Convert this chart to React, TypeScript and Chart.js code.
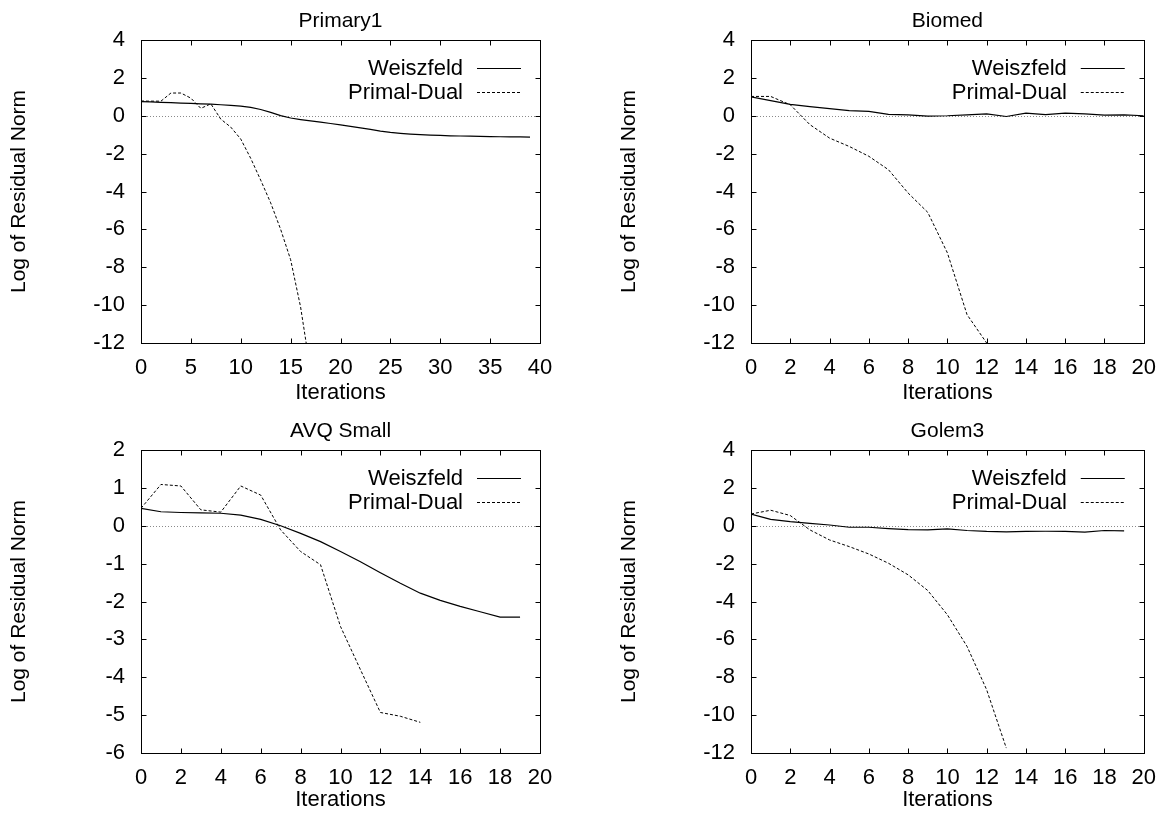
import { useEffect, useRef } from "react";
import { Chart, registerables } from "chart.js";

Chart.register(...registerables);

// ---------- data ----------
const primary1Weiszfeld = [
  0.75, 0.73, 0.71, 0.69, 0.67, 0.65, 0.63, 0.61, 0.58, 0.55,
  0.51, 0.44, 0.33, 0.18, 0.01, -0.12, -0.2, -0.27, -0.34, -0.41,
  -0.48, -0.56, -0.64, -0.72, -0.81, -0.88, -0.93, -0.97, -1.0, -1.02,
  -1.04, -1.06, -1.07, -1.08, -1.09, -1.1, -1.11, -1.12, -1.12, -1.13,
];
const primary1PrimalDual = [
  0.78, 0.77, 0.77, 1.2, 1.2, 0.93, 0.39, 0.63, -0.18, -0.6,
  -1.23, -2.25, -3.4, -4.6, -6.0, -7.6, -10.1, -13.5,
];

const biomedWeiszfeld = [
  1.0, 0.8, 0.6, 0.48, 0.38, 0.27, 0.23, 0.07, 0.05, -0.02,
  0.0, 0.05, 0.1, -0.04, 0.14, 0.06, 0.14, 0.1, 0.03, 0.05, 0.0,
];
const biomedPrimalDual = [
  1.02, 1.02, 0.58, -0.47, -1.18, -1.62, -2.14, -2.85, -4.08, -5.1,
  -7.24, -10.5, -12.0,
];

const avqWeiszfeld = [
  0.46, 0.37, 0.35, 0.34, 0.33, 0.28, 0.17, 0.0, -0.2, -0.42,
  -0.68, -0.95, -1.24, -1.52, -1.78, -1.97, -2.13, -2.27, -2.41, -2.41,
];
const avqPrimalDual = [
  0.46, 1.09, 1.05, 0.42, 0.36, 1.05, 0.81, -0.11, -0.68, -1.03,
  -2.66, -3.8, -4.93, -5.03, -5.19,
];

const golemWeiszfeld = [
  0.62, 0.34, 0.22, 0.13, 0.04, -0.08, -0.08, -0.15, -0.2, -0.22,
  -0.17, -0.25, -0.3, -0.32, -0.3, -0.29, -0.3, -0.34, -0.25, -0.27,
];
const golemPrimalDual = [
  0.62, 0.82, 0.54, -0.22, -0.75, -1.1, -1.49, -1.98, -2.59, -3.42,
  -4.7, -6.37, -8.66, -11.74,
];

const panelTitles = ["Primary1", "Biomed", "AVQ Small", "Golem3"];
const seriesLabels = ["Weiszfeld", "Primal-Dual"];
const xAxisTitle = "Iterations";
const yAxisTitle = "Log of Residual Norm";

const FONT = '"Liberation Sans", Arial, Helvetica, sans-serif';

type Panel = {
  title: string;
  w: number[];
  pd: number[];
  xMax: number;
  xStep: number;
  yMin: number;
  yMax: number;
  yStep: number;
  left: number;
  top: number;
  width: number;
  height: number;
  padTop: number;
  padRight: number;
  xAxisH: number;
};

const panels: Panel[] = [
  { title: panelTitles[0], w: primary1Weiszfeld, pd: primary1PrimalDual, xMax: 40, xStep: 5, yMin: -12, yMax: 4, yStep: 2,
    left: 0, top: 0, width: 584, height: 407, padTop: 40, padRight: 44, xAxisH: 64 },
  { title: panelTitles[1], w: biomedWeiszfeld, pd: biomedPrimalDual, xMax: 20, xStep: 2, yMin: -12, yMax: 4, yStep: 2,
    left: 610, top: 0, width: 558, height: 407, padTop: 40, padRight: 17, xAxisH: 64 },
  { title: panelTitles[2], w: avqWeiszfeld, pd: avqPrimalDual, xMax: 20, xStep: 2, yMin: -6, yMax: 2, yStep: 1,
    left: 0, top: 407, width: 584, height: 407, padTop: 43, padRight: 44, xAxisH: 61 },
  { title: panelTitles[3], w: golemWeiszfeld, pd: golemPrimalDual, xMax: 20, xStep: 2, yMin: -12, yMax: 4, yStep: 2,
    left: 610, top: 407, width: 558, height: 407, padTop: 43, padRight: 17, xAxisH: 61 },
];

const gnuplotPlugin = {
  id: "gnuplotFrame",
  beforeDatasetsDraw(chart: any) {
    const { ctx, chartArea: a, scales } = chart;
    const y0 = Math.round(scales.y.getPixelForValue(0)) + 0.5;
    ctx.save();
    ctx.strokeStyle = "#8a8a8a";
    ctx.lineWidth = 1;
    ctx.setLineDash([1, 2]);
    ctx.beginPath();
    ctx.moveTo(a.left, y0);
    ctx.lineTo(a.right, y0);
    ctx.stroke();
    ctx.restore();
  },
  afterDatasetsDraw(chart: any, _args: any, opts: any) {
    const { ctx, chartArea: a, scales } = chart;
    const L = Math.round(a.left) + 0.5;
    const R = Math.round(a.right) + 0.5;
    const T = Math.round(a.top) + 0.5;
    const B = Math.round(a.bottom) + 0.5;
    ctx.save();
    ctx.setLineDash([]);
    ctx.strokeStyle = "#000";
    ctx.lineWidth = 1;
    ctx.strokeRect(L, T, R - L, B - T);
    const tl = 5;
    ctx.beginPath();
    scales.x.ticks.forEach((t: any) => {
      const px = Math.round(scales.x.getPixelForValue(t.value)) + 0.5;
      ctx.moveTo(px, B);
      ctx.lineTo(px, B - tl);
      ctx.moveTo(px, T);
      ctx.lineTo(px, T + tl);
    });
    scales.y.ticks.forEach((t: any) => {
      const py = Math.round(scales.y.getPixelForValue(t.value)) + 0.5;
      ctx.moveTo(L, py);
      ctx.lineTo(L + tl, py);
      ctx.moveTo(R, py);
      ctx.lineTo(R - tl, py);
    });
    ctx.stroke();

    // legend
    ctx.font = `22px ${FONT}`;
    ctx.fillStyle = "#000";
    ctx.textAlign = "right";
    ctx.textBaseline = "middle";
    chart.data.datasets.forEach((ds: any, i: number) => {
      const yy = a.top + 28 + i * 24;
      ctx.fillText(ds.label, a.right - 77, yy + 1);
      ctx.beginPath();
      ctx.setLineDash(ds.borderDash || []);
      ctx.lineWidth = 1;
      ctx.strokeStyle = "#000";
      const ly = Math.round(yy) + 0.5;
      ctx.moveTo(a.right - 63, ly);
      ctx.lineTo(a.right - 19, ly);
      ctx.stroke();
    });

    // title
    ctx.setLineDash([]);
    ctx.textAlign = "center";
    ctx.font = `21px ${FONT}`;
    ctx.fillText(opts.title, (a.left + a.right) / 2, a.top - 19);
    ctx.restore();
  },
};

function PanelChart({ p }: { p: Panel }) {
  const ref = useRef<HTMLCanvasElement | null>(null);
  useEffect(() => {
    if (!ref.current) return;
    const chart = new Chart(ref.current, {
      type: "line",
      data: {
        datasets: [
          {
            label: seriesLabels[0],
            data: p.w.map((v, i) => ({ x: i, y: v })),
            borderColor: "#000",
            borderWidth: 1.2,
            pointRadius: 0,
            fill: false,
            tension: 0,
          },
          {
            label: seriesLabels[1],
            data: p.pd.map((v, i) => ({ x: i, y: v })),
            borderColor: "#000",
            borderWidth: 1,
            borderDash: [3, 2],
            pointRadius: 0,
            fill: false,
            tension: 0,
          },
        ],
      },
      options: {
        responsive: false,
        animation: false,
        events: [],
        layout: { padding: { top: p.padTop, right: p.padRight, left: 0, bottom: 0 } },
        plugins: {
          legend: { display: false },
          tooltip: { enabled: false },
          title: { display: false },
          gnuplotFrame: { title: p.title },
        } as any,
        scales: {
          x: {
            type: "linear",
            min: 0,
            max: p.xMax,
            grid: { display: false, drawTicks: false },
            border: { display: false },
            ticks: {
              stepSize: p.xStep,
              color: "#000",
              font: { family: FONT, size: 22 },
              padding: 12,
              maxRotation: 0,
              autoSkip: false,
            },
            title: {
              display: true,
              text: xAxisTitle,
              color: "#000",
              font: { family: FONT, size: 22 },
              padding: { top: 0, bottom: 1 },
            },
            afterFit: (s: any) => {
              s.height = p.xAxisH;
            },
          },
          y: {
            type: "linear",
            min: p.yMin,
            max: p.yMax,
            grid: { display: false, drawTicks: false },
            border: { display: false },
            ticks: {
              stepSize: p.yStep,
              color: "#000",
              font: { family: FONT, size: 22 },
              padding: 16,
            },
            title: {
              display: true,
              text: yAxisTitle,
              color: "#000",
              font: { family: FONT, size: 21 },
              padding: { top: 7, bottom: 0 },
            },
            afterFit: (s: any) => {
              s.width = 141;
            },
          },
        },
      },
      plugins: [gnuplotPlugin],
    });
    return () => chart.destroy();
  }, [p]);
  return (
    <canvas
      ref={ref}
      width={p.width}
      height={p.height}
      style={{ position: "absolute", left: p.left, top: p.top, width: p.width, height: p.height }}
    />
  );
}

export default function App() {
  useEffect(() => {
    document.body.style.margin = "0";
    document.body.style.background = "#fff";
  }, []);
  return (
    <div style={{ position: "relative", width: 1168, height: 814, background: "#fff", overflow: "hidden" }}>
      {panels.map((p) => (
        <PanelChart key={p.title} p={p} />
      ))}
    </div>
  );
}
